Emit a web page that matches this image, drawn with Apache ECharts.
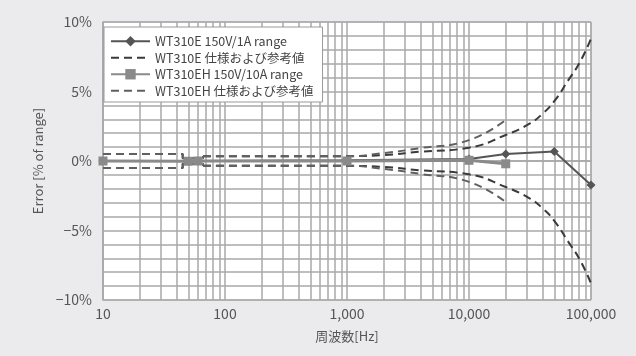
<!DOCTYPE html>
<html>
<head>
<meta charset="utf-8">
<script src="https://cdn.jsdelivr.net/npm/echarts@6/dist/echarts.min.js"></script>
<style>
html,body{margin:0;padding:0;background:#ebebed;}
#c{width:636px;height:356px;}
</style>
</head>
<body>
<div id="c"></div>
<script>
// ---- data ----
const freqE = [10, 50, 60, 1000, 10000, 20000, 50000, 100000];
const errE  = [0, 0, 0, 0.05, 0.15, 0.5, 0.68, -1.72];
const freqEH = [10, 50, 60, 1000, 10000, 20000];
const errEH  = [0, -0.02, 0, 0, 0.05, -0.2];

// spec (± band), low-frequency step part
const specLowF = [10, 45, 45, 66, 66];
const specLowV = [0.5, 0.5, 0.2, 0.2, 0.35];
// spec curves (upper magnitude, band is symmetric)
const specEF = [66, 1000, 2000, 4000, 10000, 20000, 31600, 40000, 50000, 65000, 81000, 100000];
const specEV = [0.35, 0.35, 0.43, 0.67, 0.96, 1.87, 2.7, 3.4, 4.3, 5.8, 7.1, 8.8];
const specEHF = [66, 1000, 2000, 4000, 10000, 20000];
const specEHV = [0.35, 0.35, 0.57, 0.93, 1.5, 2.95];

const xTicks = [10, 100, 1000, 10000, 100000];
const xTickLabels = ['10', '100', '1,000', '10,000', '100,000'];
const minorMult = [2, 3, 4, 5, 6, 7, 8, 9];

const nameE = 'WT310E 150V/1A range';
const nameESpec = 'WT310E 仕様および参考値';
const nameEH = 'WT310EH 150V/10A range';
const nameEHSpec = 'WT310EH 仕様および参考値';

const FONT = '"Noto Sans CJK JP", "Noto Sans", sans-serif';
const TXT = '#555';
const GRID = '#a8a8a8';

function pairs(f, v, sign) { return f.map((x, i) => [x, sign * v[i]]); }

const minorLines = [];
xTicks.slice(0, -1).forEach(d => minorMult.forEach(m => minorLines.push({ xAxis: d * m })));

function specSeries(name, f, v, color, smooth, z) {
  return [1, -1].map(s => ({
    name: name, type: 'line', data: pairs(f, v, s), smooth: smooth,
    symbol: 'none', z: z, silent: true,
    lineStyle: { color: color, width: 2, type: [8, 5] }, itemStyle: { color: color }
  }));
}

const series = [
  {
    name: 'minor', type: 'line', data: [[10, 0]], symbol: 'none', z: 1, silent: true,
    lineStyle: { opacity: 0 },
    markLine: {
      silent: true, symbol: 'none', label: { show: false }, z: 1,
      lineStyle: { color: GRID, width: 1.5, type: 'solid' },
      data: minorLines, animation: false
    }
  },
  ...specSeries(nameESpec, specLowF, specLowV, '#3a3a3a', false, 2),
  ...specSeries(nameESpec, specEF, specEV, '#3a3a3a', true, 2),
  ...specSeries(nameEHSpec, specLowF, specLowV, '#606060', false, 2),
  ...specSeries(nameEHSpec, specEHF, specEHV, '#606060', true, 2),
  {
    name: nameE, type: 'line', data: pairs(freqE, errE, 1), z: 4,
    symbol: 'diamond', symbolSize: 9,
    lineStyle: { color: '#555', width: 2 }, itemStyle: { color: '#555' }
  },
  {
    name: nameEH, type: 'line', data: pairs(freqEH, errEH, 1), z: 5,
    symbol: 'rect', symbolSize: 9,
    lineStyle: { color: '#8a8a8a', width: 3 }, itemStyle: { color: '#8a8a8a' }
  }
];

const chart = echarts.init(document.getElementById('c'), null, { renderer: 'canvas' });
chart.setOption({
  animation: false,
  backgroundColor: '#ebebed',
  textStyle: { fontFamily: FONT },
  grid: {
    left: 103, right: 45, top: 22, bottom: 56, show: true,
    backgroundColor: '#fff', borderColor: GRID, borderWidth: 1
  },
  legend: {
    z: 20,
    data: [
      { name: nameE },
      { name: nameESpec, itemStyle: { opacity: 0 } },
      { name: nameEH },
      { name: nameEHSpec, itemStyle: { opacity: 0 } }
    ],
    orient: 'vertical', left: 104, top: 27,
    padding: [8, 9, 5, 6], itemGap: 4, itemWidth: 39, itemHeight: 13,
    backgroundColor: '#fff', borderColor: '#999', borderWidth: 1,
    textStyle: { fontFamily: FONT, fontSize: 12.5, color: '#444' }
  },
  xAxis: {
    type: 'log', logBase: 10, min: 10, max: 100000,
    name: '周波数[Hz]', nameLocation: 'middle', nameGap: 30,
    nameTextStyle: { fontFamily: FONT, fontSize: 13, color: TXT },
    axisLine: { show: true, lineStyle: { color: GRID, width: 1.5 } },
    axisTick: { show: false },
    axisLabel: {
      fontFamily: FONT, fontSize: 14, color: TXT, margin: 7,
      formatter: v => { const i = xTicks.indexOf(Math.round(v)); return i >= 0 ? xTickLabels[i] : ''; }
    },
    splitLine: { show: true, lineStyle: { color: GRID, width: 1.5 } }
  },
  yAxis: {
    type: 'value', min: -10, max: 10, interval: 1,
    name: 'Error [% of range]', nameLocation: 'middle', nameGap: 56, nameRotate: 90,
    nameTextStyle: { fontFamily: FONT, fontSize: 13, color: TXT },
    axisLine: { show: true, lineStyle: { color: GRID, width: 1.5 } },
    axisTick: { show: false },
    axisLabel: {
      fontFamily: FONT, fontSize: 14, color: TXT, margin: 11,
      formatter: v => (Math.round(v) % 5 === 0) ? ((v < 0 ? '\u2212' : '') + Math.abs(v) + '%') : ''
    },
    splitLine: { show: true, lineStyle: { color: GRID, width: 1.5 } }
  },
  series: series
});
</script>
</body>
</html>
